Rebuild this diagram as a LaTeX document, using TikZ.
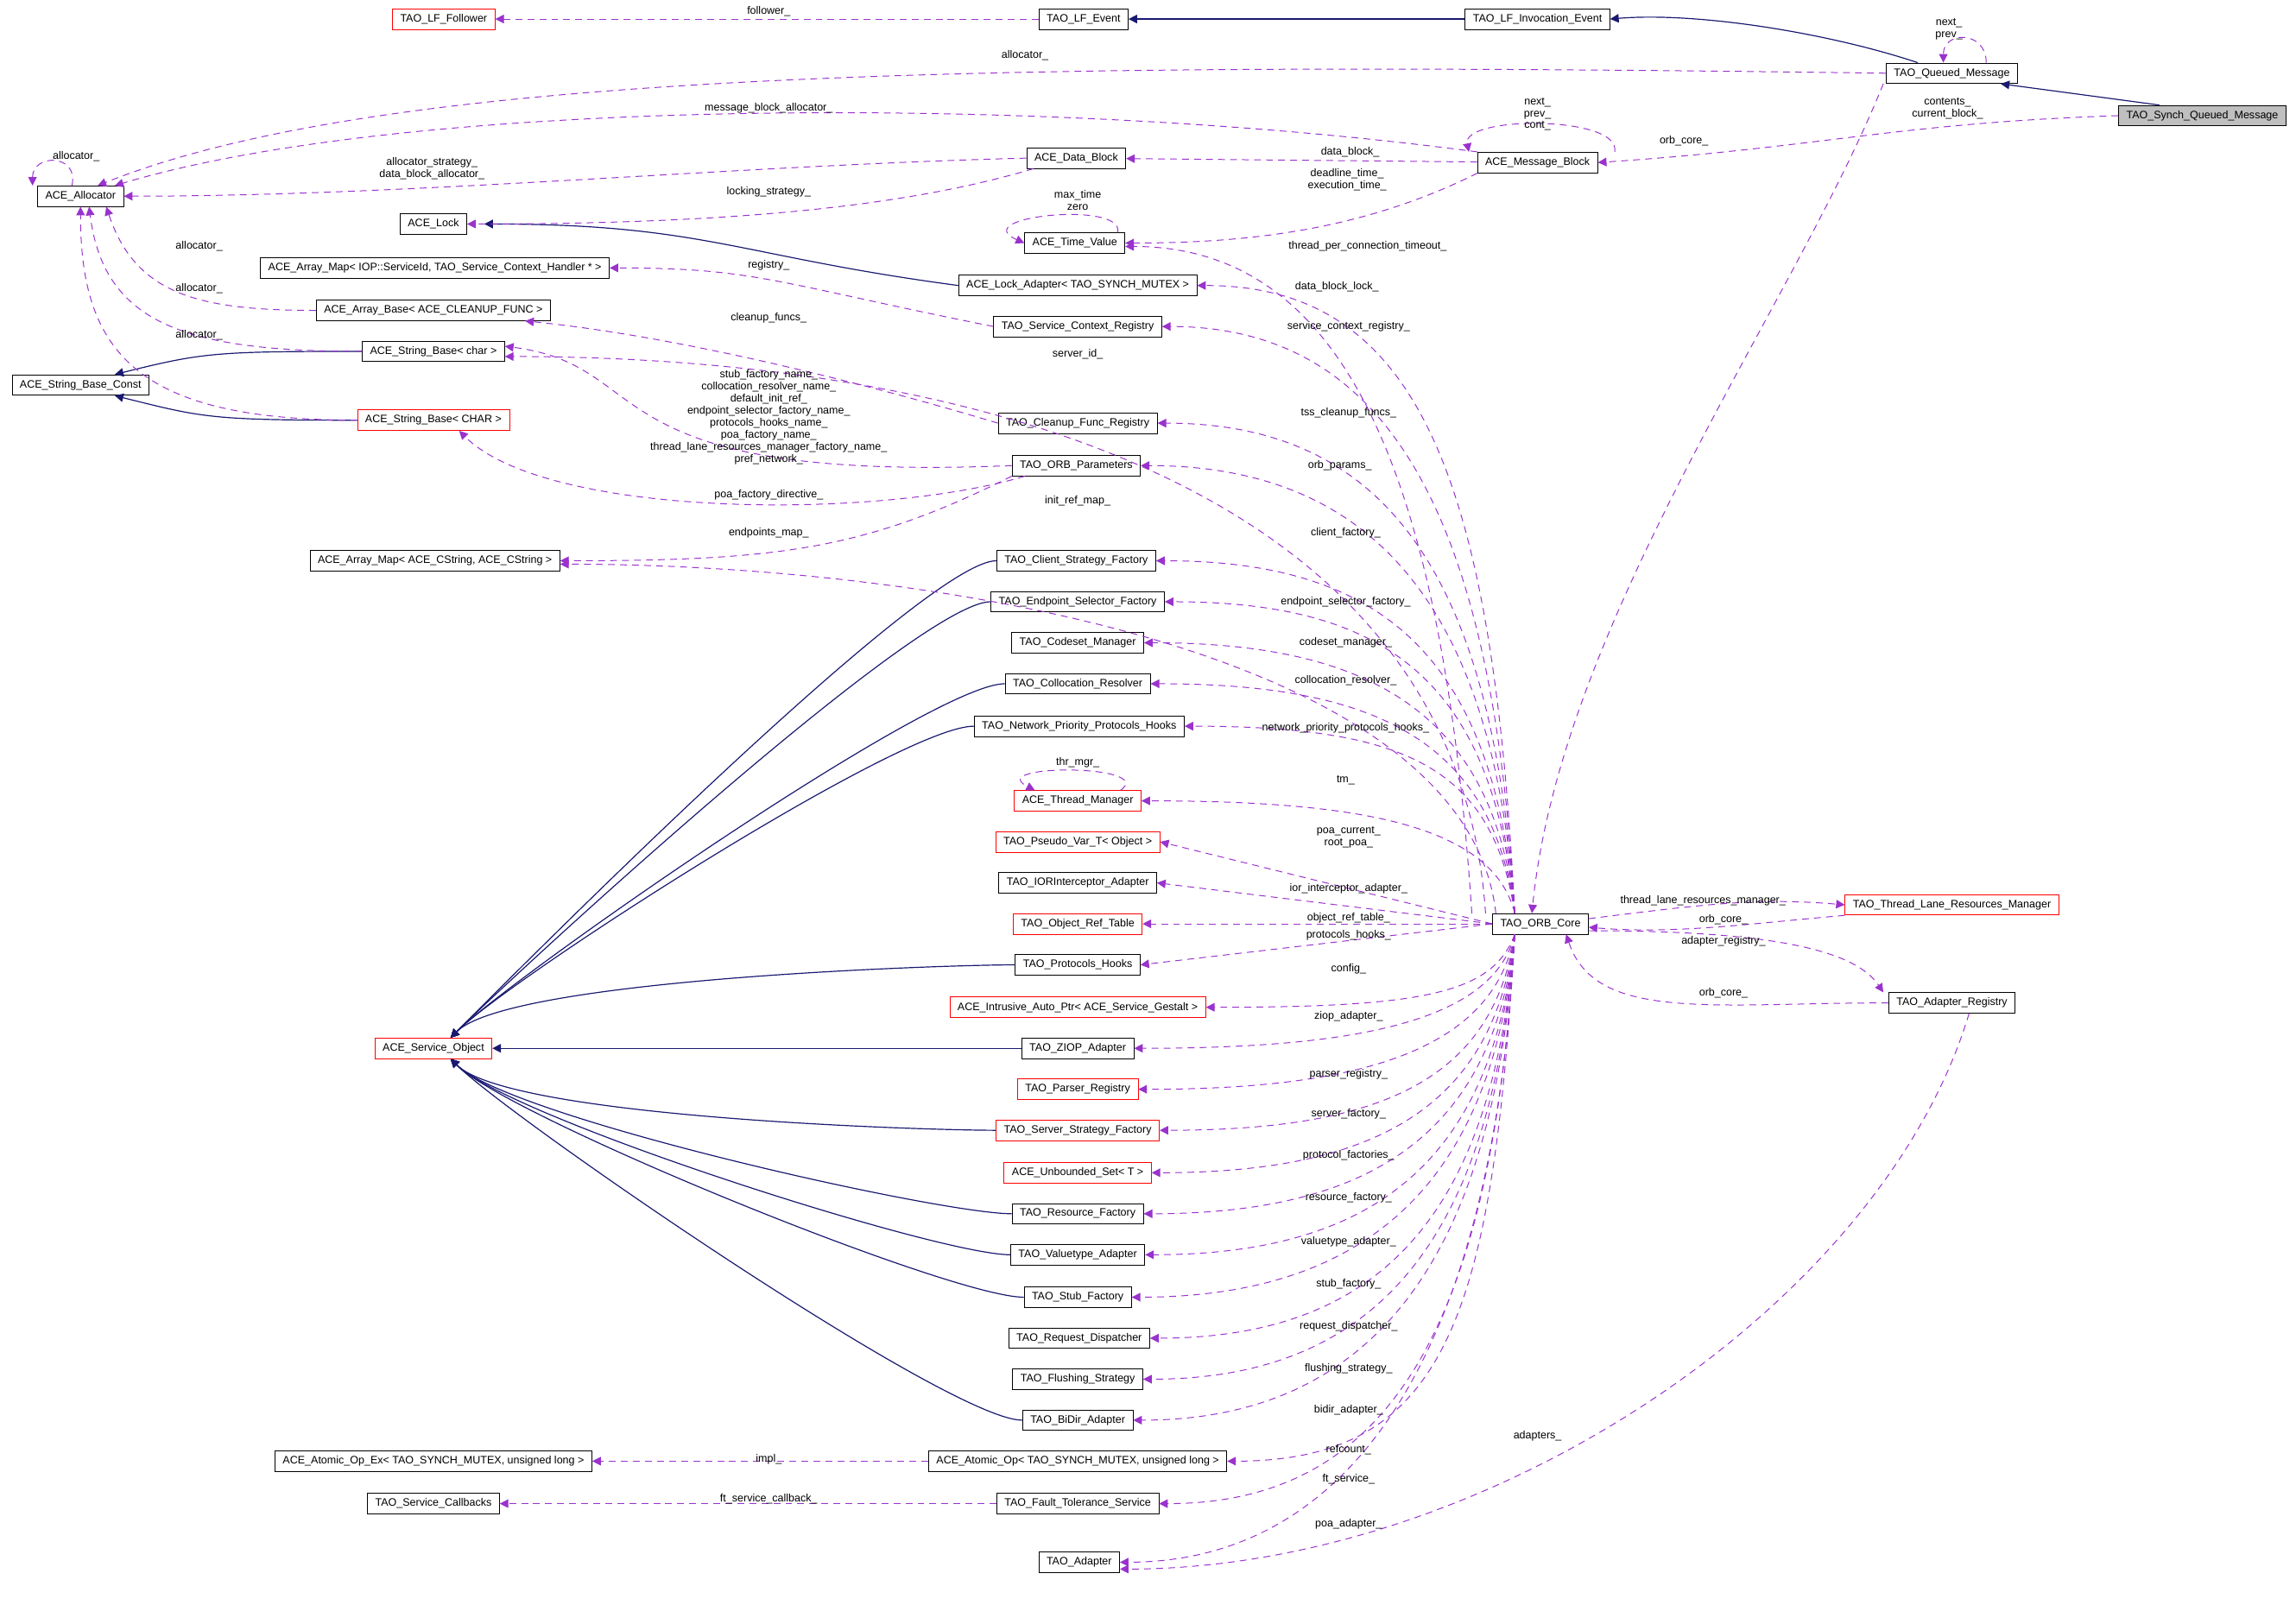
\documentclass[tikz,border=0pt]{standalone}
\usepackage{fontspec}
\setmainfont{Liberation Sans}
\usetikzlibrary{arrows.meta}
\definecolor{inhcol}{HTML}{191970}
\definecolor{usecol}{HTML}{9A32CD}
\tikzset{
  cls/.style={draw=black, font=\fontsize{6.3}{7}\selectfont, minimum height=0.42cm, inner xsep=0.16cm, inner ysep=0pt},
  redcls/.style={cls, draw=red},
  inh/.style={draw=inhcol, line width=0.6pt, -{Triangle[length=5pt,width=5pt]}},
  use/.style={draw=usecol, dash pattern=on 4pt off 3pt, line width=0.5pt, -{Triangle[length=5pt,width=5pt]}},
  lbl/.style={font=\fontsize{6.3}{7}\selectfont, inner sep=0pt, align=center}
}
\begin{document}
\catcode`\_=12
\begin{tikzpicture}[x=0.03cm,y=0.03cm]
  \useasboundingbox (0,0) rectangle (1568,-1096);

  % Top row
  \node[redcls] (follower) at (303,-13) {TAO_LF_Follower};
  \node[cls] (lfevent) at (740,-13) {TAO_LF_Event};
  \node[cls] (lfinv) at (1050,-13) {TAO_LF_Invocation_Event};
  \node[cls] (qmsg) at (1333,-50) {TAO_Queued_Message};
  \node[cls, fill=black!25] (sqmsg) at (1504,-79) {TAO_Synch_Queued_Message};

  % Left column
  \node[cls] (alloc) at (55,-134) {ACE_Allocator};
  \node[cls] (lock) at (296,-153) {ACE_Lock};
  \node[cls] (mapiop) at (297,-183) {ACE_Array_Map< IOP::ServiceId, TAO_Service_Context_Handler * >};
  \node[cls] (arrbase) at (296,-212) {ACE_Array_Base< ACE_CLEANUP_FUNC >};
  \node[cls] (strchar) at (296,-240) {ACE_String_Base< char >};
  \node[cls] (strconst) at (55,-263) {ACE_String_Base_Const};
  \node[redcls] (strCHAR) at (296,-287) {ACE_String_Base< CHAR >};
  \node[cls] (mapcstr) at (297,-383) {ACE_Array_Map< ACE_CString, ACE_CString >};
  \node[redcls] (svcobj) at (296,-716) {ACE_Service_Object};
  \node[cls] (atomex) at (296,-998) {ACE_Atomic_Op_Ex< TAO_SYNCH_MUTEX, unsigned long >};
  \node[cls] (svccb) at (296,-1027) {TAO_Service_Callbacks};

  % Middle column
  \node[cls] (datablk) at (735,-108) {ACE_Data_Block};
  \node[cls] (timeval) at (734,-166) {ACE_Time_Value};
  \node[cls] (lockad) at (736,-195) {ACE_Lock_Adapter< TAO_SYNCH_MUTEX >};
  \node[cls] (screg) at (736,-223) {TAO_Service_Context_Registry};
  \node[cls] (cfreg) at (736,-289) {TAO_Cleanup_Func_Registry};
  \node[cls] (orbpar) at (735,-318) {TAO_ORB_Parameters};
  \node[cls] (csf) at (735,-383) {TAO_Client_Strategy_Factory};
  \node[cls] (esf) at (736,-411) {TAO_Endpoint_Selector_Factory};
  \node[cls] (csm) at (736,-439) {TAO_Codeset_Manager};
  \node[cls] (colres) at (736,-467) {TAO_Collocation_Resolver};
  \node[cls] (nph) at (737,-496) {TAO_Network_Priority_Protocols_Hooks};
  \node[redcls] (thrmgr) at (736,-547) {ACE_Thread_Manager};
  \node[redcls] (pvar) at (736,-575) {TAO_Pseudo_Var_T< Object >};
  \node[cls] (iora) at (736,-603) {TAO_IORInterceptor_Adapter};
  \node[redcls] (ort) at (736,-631) {TAO_Object_Ref_Table};
  \node[cls] (phooks) at (736,-659) {TAO_Protocols_Hooks};
  \node[redcls] (iap) at (736,-688) {ACE_Intrusive_Auto_Ptr< ACE_Service_Gestalt >};
  \node[cls] (ziop) at (736,-716) {TAO_ZIOP_Adapter};
  \node[redcls] (preg) at (736,-744) {TAO_Parser_Registry};
  \node[redcls] (ssf) at (736,-772) {TAO_Server_Strategy_Factory};
  \node[redcls] (uset) at (736,-801) {ACE_Unbounded_Set< T >};
  \node[cls] (resf) at (736,-829) {TAO_Resource_Factory};
  \node[cls] (vta) at (736,-857) {TAO_Valuetype_Adapter};
  \node[cls] (stubf) at (736,-886) {TAO_Stub_Factory};
  \node[cls] (reqd) at (737,-914) {TAO_Request_Dispatcher};
  \node[cls] (flush) at (736,-942) {TAO_Flushing_Strategy};
  \node[cls] (bidir) at (736,-970) {TAO_BiDir_Adapter};
  \node[cls] (atom) at (736,-998) {ACE_Atomic_Op< TAO_SYNCH_MUTEX, unsigned long >};
  \node[cls] (fts) at (736,-1027) {TAO_Fault_Tolerance_Service};
  \node[cls] (adapter) at (737,-1067) {TAO_Adapter};

  % Right part
  \node[cls] (msgblk) at (1050,-111) {ACE_Message_Block};
  \node[cls] (orb) at (1052,-631) {TAO_ORB_Core};
  \node[redcls] (tlrm) at (1333,-618) {TAO_Thread_Lane_Resources_Manager};
  \node[cls] (areg) at (1333,-685) {TAO_Adapter_Registry};

  % Inheritance
  \draw[inh] (lfinv) -- (lfevent);
  \draw[inh] ([xshift=-20]qmsg.north) .. controls +(-60,20) and +(60,5) .. (lfinv.east);
  \draw[inh] ([xshift=-25]sqmsg.north) -- ([xshift=-10]qmsg.south east);
  \draw[inh] (lockad.west) .. controls +(-150,20) and +(150,0) .. ([xshift=10]lock.east);
  \draw[inh] (strchar.west) .. controls +(-100,0) and +(60,15) .. ([xshift=20]strconst.north);
  \draw[inh] (strCHAR.west) .. controls +(-100,0) and +(60,-15) .. ([xshift=20]strconst.south);
  \foreach \c in {csf,esf,colres,nph,phooks}
    \draw[inh] (\c.west) .. controls +(-50,0) and +(40,40) .. ([xshift=10]svcobj.north);
  \draw[inh] (ziop) -- (svcobj);
  \foreach \c in {ssf,resf,vta,stubf,bidir}
    \draw[inh] (\c.west) .. controls +(-50,0) and +(40,-40) .. ([xshift=10]svcobj.south);

  % Usage, upper part
  \draw[use] (lfevent) -- (follower);
  \draw[use] (qmsg.west) .. controls +(-600,8) and +(200,80) .. ([xshift=10]alloc.north);
  \draw[use] ([xshift=20]qmsg.north) .. controls +(0,22) and +(0,22) .. ([xshift=-5]qmsg.north);
  \draw[use] (sqmsg.west) .. controls +(-150,-5) and +(150,10) .. (msgblk.east);
  \draw[use] ([xshift=-40]qmsg.south) .. controls +(-60,-150) and +(20,200) .. ([xshift=-5]orb.north);
  \draw[use] ([xshift=-35]msgblk.north) .. controls +(-300,40) and +(200,60) .. ([xshift=20]alloc.north);
  \draw[use] ([xshift=45]msgblk.north) .. controls +(5,25) and +(-5,25) .. ([xshift=-40]msgblk.north);
  \draw[use] ([xshift=-5]alloc.north) .. controls +(5,22) and +(0,22) .. ([xshift=-28]alloc.north);
  \draw[use] (msgblk) -- (datablk);
  \draw[use] (datablk.west) .. controls +(-200,-5) and +(200,0) .. (alloc.east);
  \draw[use] ([xshift=-25]datablk.south) .. controls +(-100,-30) and +(150,0) .. (lock.east);
  \draw[use] ([xshift=-35]msgblk.south) .. controls +(-80,-40) and +(80,0) .. (timeval.east);
  \draw[use] ([xshift=25]timeval.north) .. controls +(5,22) and +(-40,18) .. (timeval.west);
  \draw[use] ([xshift=-40]orb.north) .. controls +(-20,300) and +(150,0) .. ([yshift=-2]timeval.east);

  % Usage, left column
  \draw[use] (arrbase.west) .. controls +(-80,0) and +(20,-60) .. ([xshift=15]alloc.south);
  \draw[use] (strchar.west) .. controls +(-120,0) and +(10,-80) .. ([xshift=5]alloc.south);
  \draw[use] (strCHAR.west) .. controls +(-150,0) and +(0,-100) .. (alloc.south);
  \draw[use] (screg.west) .. controls +(-150,30) and +(100,0) .. (mapiop.east);
  \draw[use] (cfreg.west) .. controls +(-100,30) and +(100,-10) .. ([xshift=-15]arrbase.south east);
  \draw[use] (orbpar.west) .. controls (400,-330) and (450,-250) .. ([yshift=3]strchar.east);
  \draw[use] ([xshift=-30]orbpar.south) .. controls +(-100,-30) and +(60,-60) .. ([xshift=15]strCHAR.south);
  \draw[use] (orbpar.south west) .. controls +(-100,-50) and +(150,0) .. (mapcstr.east);
  \draw[use] (atom) -- (atomex);
  \draw[use] (fts) -- (svccb);

  % Usage, fan out of the ORB core
  \draw[use] ([xshift=-32]orb.north) .. controls +(-20,300) and +(300,0) .. ([yshift=-3]strchar.east);
  \draw[use] ([xshift=-26]orb.north) .. controls +(-20,180) and +(250,0) .. ([yshift=-2]mapcstr.east);
  \foreach \t/\d in {lockad/300,screg/280,cfreg/240,orbpar/220,csf/180,esf/160,csm/140,colres/120,nph/100,thrmgr/60}
    \draw[use] ([xshift=-15]orb.north) .. controls +(-15,\d) and +(150,0) .. (\t.east);
  \foreach \t in {pvar,iora,ort,phooks}
    \draw[use] (orb.west) -- (\t.east);
  \foreach \t/\d in {iap/40,ziop/60,preg/80,ssf/100,uset/120,resf/140,vta/160,stubf/180,reqd/200,flush/220,bidir/240,atom/260,fts/280,adapter/300}
    \draw[use] ([xshift=-15]orb.south) .. controls +(-15,-\d) and +(150,0) .. (\t.east);
  \draw[use] ([xshift=25]thrmgr.north) .. controls +(25,18) and +(-35,18) .. ([xshift=-25]thrmgr.north);
  \draw[use] ([yshift=3]orb.east) .. controls +(80,10) and +(-60,5) .. (tlrm.west);
  \draw[use] (tlrm.south west) .. controls +(-60,-5) and +(60,-5) .. ([yshift=-2]orb.east);
  \draw[use] ([yshift=-4]orb.east) .. controls +(120,0) and +(-20,30) .. ([xshift=-40]areg.north);
  \draw[use] (areg.west) .. controls +(-120,0) and +(20,-60) .. ([xshift=15]orb.south);
  \draw[use] ([xshift=10]areg.south) .. controls +(-60,-200) and +(250,0) .. ([yshift=-4]adapter.east);

  % Edge labels
  \foreach \n/\x/\y/\s in {
    l1/525/-8/follower_, l2/700/-38/allocator_, l3/1331/-20/next_\\prev_,
    l4/1330/-74/contents_\\current_block_, l5/1150/-96/orb_core_,
    l6/525/-74/message_block_allocator_, l7/1050/-78/next_\\prev_\\cont_,
    l8/922/-104/data_block_, l9/295/-115/allocator_strategy_\\data_block_allocator_,
    l10/525/-131/locking_strategy_, l11/920/-123/deadline_time_\\execution_time_,
    l12/736/-137/max_time\\zero, l13/934/-168/thread_per_connection_timeout_,
    l14/52/-107/allocator_, l15/136/-168/allocator_, l16/136/-197/allocator_,
    l17/136/-229/allocator_, l18/525/-181/registry_, l19/525/-217/cleanup_funcs_,
    l20/525/-285/stub_factory_name_\\collocation_resolver_name_\\default_init_ref_\\endpoint_selector_factory_name_\\protocols_hooks_name_\\poa_factory_name_\\thread_lane_resources_manager_factory_name_\\pref_network_,
    l21/525/-338/poa_factory_directive_, l22/525/-364/endpoints_map_,
    l23/736/-342/init_ref_map_, l24/736/-242/server_id_, l25/913/-196/data_block_lock_,
    l26/921/-223/service_context_registry_, l27/921/-282/tss_cleanup_funcs_,
    l28/915/-318/orb_params_, l29/919/-364/client_factory_,
    l30/919/-411/endpoint_selector_factory_, l31/919/-439/codeset_manager_,
    l32/919/-465/collocation_resolver_, l33/919/-497/network_priority_protocols_hooks_,
    l34/736/-521/thr_mgr_, l35/919/-533/tm_, l36/921/-572/poa_current_\\root_poa_,
    l37/921/-607/ior_interceptor_adapter_, l38/921/-627/object_ref_table_,
    l39/921/-639/protocols_hooks_, l40/921/-662/config_, l41/921/-694/ziop_adapter_,
    l42/921/-734/parser_registry_, l43/921/-761/server_factory_,
    l44/921/-789/protocol_factories_, l45/921/-818/resource_factory_,
    l46/921/-848/valuetype_adapter_, l47/921/-877/stub_factory_,
    l48/921/-906/request_dispatcher_, l49/921/-935/flushing_strategy_,
    l50/921/-963/bidir_adapter_, l51/921/-990/refcount_, l52/921/-1010/ft_service_,
    l53/921/-1041/poa_adapter_, l54/525/-997/impl_, l55/525/-1024/ft_service_callback_,
    l56/1163/-615/thread_lane_resources_manager_, l57/1177/-628/orb_core_,
    l58/1177/-643/adapter_registry_, l59/1177/-678/orb_core_, l60/1050/-981/adapters_}
    \node[lbl] (\n) at (\x,\y) {\s};
\end{tikzpicture}
\end{document}
